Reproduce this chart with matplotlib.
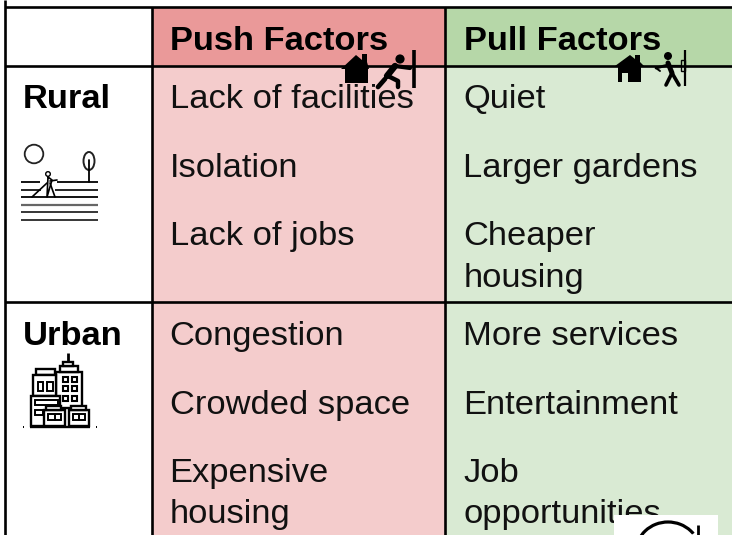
import matplotlib
matplotlib.use("Agg")
import matplotlib.pyplot as plt
from matplotlib.patches import Rectangle, Circle, Ellipse, Polygon, Arc

plt.rcParams['font.family'] = ['Liberation Sans', 'DejaVu Sans']

# ---- content ----
headers = ["Push Factors", "Pull Factors"]
row_labels = ["Rural", "Urban"]
rural_push = ["Lack of facilities", "Isolation", "Lack of jobs"]
rural_pull = ["Quiet", "Larger gardens", "Cheaper\nhousing"]
urban_push = ["Congestion", "Crowded space", "Expensive\nhousing"]
urban_pull = ["More services", "Entertainment", "Job\nopportunities"]

RED_H, RED, GREEN_H, GREEN = "#EA9999", "#F4CCCC", "#B6D7A8", "#D9EAD3"
FS = 24.8
LH = 41.5

fig = plt.figure(figsize=(7.32, 5.35), dpi=100, facecolor="white")
ax = fig.add_axes([0, 0, 1, 1])
ax.set_xlim(0, 732)
ax.set_ylim(535, 0)
ax.axis("off")


def rect(x0, y0, x1, y1, c, z=1):
    ax.add_patch(Rectangle((x0, y0), x1 - x0, y1 - y0, fc=c, ec="none", zorder=z))


def line(xs, ys, lw=1.5, c="black", z=5, cap="round"):
    ax.plot(xs, ys, color=c, lw=lw, solid_capstyle=cap, solid_joinstyle="round", zorder=z)


def poly(pts, c="black", z=5):
    ax.add_patch(Polygon(pts, closed=True, fc=c, ec="none", zorder=z))


# cell fills
rect(152, 7, 445, 66, RED_H)
rect(152, 66, 445, 535, RED)
rect(445, 7, 732, 66, GREEN_H)
rect(445, 66, 732, 535, GREEN)

# grid
glw = 1.9
for y in (7, 66, 302):
    ax.plot([5, 732], [y, y], color="black", lw=glw, zorder=3, solid_capstyle="butt")
for x in (5, 152, 445):
    y0 = 0 if x == 5 else 7
    ax.plot([x, x], [y0, 535], color="black", lw=glw, zorder=3, solid_capstyle="butt")

# text
for x, h in zip((170, 464), headers):
    ax.text(x, 50, h, fontsize=FS, fontweight="bold", va="baseline", zorder=4)
for y, lab in zip((108, 345), row_labels):
    ax.text(23, y, lab, fontsize=FS, fontweight="bold", va="baseline", zorder=4)


def cell(x, base, items):
    for y, it in zip((base, base + 69, base + 137), items):
        for i, part in enumerate(it.split("\n")):
            ax.text(x, y + i * LH, part, fontsize=FS, va="baseline", zorder=4,
                    color="#111111", clip_on=True)


cell(169.5, 108, rural_push)
cell(463.3, 108, rural_pull)
cell(169.5, 345, urban_push)
cell(463.3, 345, urban_pull)

# rural icon
ax.add_patch(Circle((34, 154), 9.3, fc="none", ec="#222222", lw=1.3, zorder=5))
ax.add_patch(Ellipse((89, 161), 11, 18, fc="none", ec="#222222", lw=1.4, zorder=5))
line([89, 89], [160, 182], lw=1.3)
line([21, 40], [182, 182], lw=1.3, cap="butt")
line([57, 98], [182, 182], lw=1.3, cap="butt")
line([21, 41], [190, 190], lw=1.2, cap="butt")
line([55, 98], [190, 190], lw=1.2, cap="butt")
line([21, 98], [197, 197], lw=1.3, cap="butt")
line([21, 98], [205, 205], lw=1.6, c="#666666", cap="butt")
line([21, 98], [212, 212], lw=1.1, cap="butt")
line([21, 98], [220, 220], lw=1.1, cap="butt")
ax.add_patch(Circle((48, 174), 2.3, fc="white", ec="black", lw=1.0, zorder=6))
line([48, 47, 52, 48], [177, 197, 180, 177], lw=1.2, z=6)
line([50, 55], [183, 197], lw=1.2, z=6)
line([32, 47], [197, 183], lw=1.2, z=6)
line([50, 57], [181, 180], lw=1.2, z=6)

# urban icon
U = 1.7
line([30, 90], [426.5, 426.5], lw=U, cap="butt")
line([23, 24], [427, 427], lw=1.4, cap="butt")
line([96, 97], [427, 427], lw=1.4, cap="butt")
line([68, 68], [353, 362], lw=U + 0.3, cap="butt")


def box(x0, y0, x1, y1, fc="white", lw=U, z=5):
    ax.add_patch(Rectangle((x0, y0), x1 - x0, y1 - y0, fc=fc, ec="black", lw=lw, zorder=z))


box(56, 372, 82, 408)
box(60, 366, 78, 372)
box(63, 362, 73, 366)
box(36, 369, 55, 375)
box(33, 375, 56, 396)
box(38, 382, 43, 391, lw=1.4)
box(47, 382, 53, 391, lw=1.4)
for x in (63, 72):
    for y in (377, 386, 396):
        box(x, y, x + 5, y + 5, fc="white", lw=1.5, z=6)
box(31, 396, 60, 426)
box(35, 400, 58, 405, lw=1.4, z=6)
box(35, 410, 43, 415, lw=1.4, z=6)
box(44, 410, 65, 426, z=7)
box(46, 406, 61, 410, z=7)
box(48, 414, 61, 420, lw=1.4, z=8)
line([54.5, 54.5], [414, 420], lw=1.4, z=9)
box(69, 410, 89, 426, z=7)
box(71, 406, 86, 410, z=7)
box(73, 414, 85, 420, lw=1.4, z=8)
line([79, 79], [414, 420], lw=1.4, z=9)

# left house, solid
poly([(341, 69), (356, 55), (362, 60), (362, 54), (367, 54), (367, 62), (369, 69), (368, 69),
      (368, 83), (345, 83), (345, 69)])
# right house with door
poly([(615, 66), (630, 55), (635, 59), (635, 55), (640, 55), (640, 62), (644, 66), (641, 66),
      (641, 82), (628, 82), (628, 73), (622, 73), (622, 82), (618, 82), (618, 66)], z=6)

# pushing figure
ax.add_patch(Circle((400, 59), 4.6, fc="black", ec="none", zorder=7))
line([395, 387], [66, 76], lw=4.6, z=7)
line([395, 410], [66, 68], lw=3.0, z=7)
line([388, 398, 398], [76, 81, 87], lw=3.2, z=7)
line([385, 378], [79, 87], lw=3.4, z=7)
line([414, 414], [50, 88], lw=2.6, z=7, cap="butt")

# pulling figure
ax.add_patch(Circle((668, 56), 4, fc="black", ec="none", zorder=7))
line([668, 672], [63, 73], lw=3.6, z=7)
line([672, 666], [73, 85], lw=2.6, z=7)
line([672, 679], [73, 85], lw=2.6, z=7)
line([668, 656], [65, 68], lw=2.0, z=7)
line([656, 660], [68, 71], lw=1.4, z=7)
line([670, 681], [66, 66], lw=1.6, z=7)
line([685, 685], [50, 86], lw=1.6, z=7, cap="butt")
ax.add_patch(Rectangle((681, 60), 4, 11, fc="none", ec="black", lw=1.0, zorder=7))

# white box with cycle arrow
rect(614, 515, 718, 535, "white", z=8)
ax.add_patch(Arc((668, 552), 64, 60, theta1=0, theta2=360, ec="black", lw=2.3, zorder=9))
poly([(703, 527), (703, 540), (690, 536)], c="white", z=9)
line([698, 698], [525, 536], lw=2.0, z=10, cap="butt")

fig.savefig("out.png", dpi=100, facecolor="white")
